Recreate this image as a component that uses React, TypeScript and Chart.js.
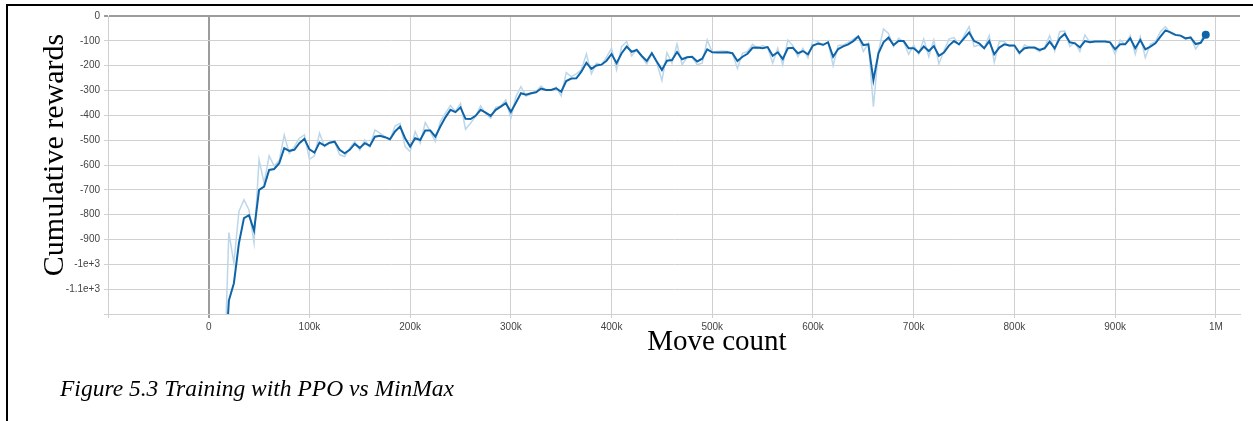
import React, { useEffect, useRef } from "react";
import { Chart, registerables } from "chart.js";

Chart.register(...registerables);

// Training step (in thousands of moves)
const STEPS_K: number[] = [
  15, 20, 25, 30, 35, 40, 45, 50, 55, 60, 65, 70, 75, 80, 85, 90, 95, 100,
  105, 110, 115, 120, 125, 130, 135, 140, 145, 150, 155, 160, 165, 170, 175, 180, 185, 190, 195, 200,
  205, 210, 215, 220, 225, 230, 235, 240, 245, 250, 255, 260, 265, 270, 275, 280, 285, 290, 295, 300,
  305, 310, 315, 320, 325, 330, 335, 340, 345, 350, 355, 360, 365, 370, 375, 380, 385, 390, 395, 400,
  405, 410, 415, 420, 425, 430, 435, 440, 445, 450, 455, 460, 465, 470, 475, 480, 485, 490, 495, 500,
  505, 510, 515, 520, 525, 530, 535, 540, 545, 550, 555, 560, 565, 570, 575, 580, 585, 590, 595, 600,
  605, 610, 615, 620, 625, 630, 635, 640, 645, 650, 655, 660, 665, 670, 675, 680, 685, 690, 695, 700,
  705, 710, 715, 720, 725, 730, 735, 740, 745, 750, 755, 760, 765, 770, 775, 780, 785, 790, 795, 800,
  805, 810, 815, 820, 825, 830, 835, 840, 845, 850, 855, 860, 865, 870, 875, 880, 885, 890, 895, 900,
  905, 910, 915, 920, 925, 930, 935, 940, 945, 950, 955, 960, 965, 970, 975, 980, 985, 990,
];

// Smoothed cumulative reward (dark line)
const SMOOTHED: number[] = [
  -1500, -1146, -1076, -915, -814, -802, -864, -700, -687, -620, -616, -593, -532, -543, -539, -512, -495, -537,
  -550, -510, -522, -510, -506, -539, -553, -539, -515, -531, -512, -523, -486, -482, -488, -496, -465, -445, -492, -526,
  -492, -499, -461, -461, -486, -445, -408, -378, -387, -368, -414, -415, -402, -378, -389, -402, -378, -365, -351, -386,
  -349, -311, -317, -311, -307, -292, -298, -298, -291, -305, -262, -252, -251, -224, -188, -213, -199, -196, -180, -153,
  -190, -150, -123, -144, -137, -161, -181, -150, -184, -217, -180, -177, -145, -174, -166, -164, -183, -172, -134, -146,
  -147, -147, -146, -150, -181, -164, -152, -128, -127, -130, -125, -160, -146, -173, -130, -128, -150, -141, -154, -119,
  -111, -116, -106, -164, -133, -122, -114, -101, -83, -117, -114, -258, -150, -106, -87, -117, -101, -101, -130, -130,
  -147, -123, -141, -121, -160, -147, -119, -101, -114, -90, -66, -101, -110, -130, -101, -154, -127, -114, -119, -119,
  -148, -130, -127, -127, -137, -130, -103, -130, -90, -72, -106, -110, -126, -101, -106, -103, -103, -103, -106, -134,
  -114, -114, -90, -130, -97, -134, -123, -110, -83, -58, -66, -76, -79, -90, -87, -113, -108, -76,
];

// Raw cumulative reward (light line)
const RAW: number[] = [
  -1500, -872, -995, -787, -740, -781, -915, -579, -673, -563, -604, -582, -479, -553, -526, -492, -479, -577,
  -563, -472, -526, -512, -506, -559, -566, -532, -506, -539, -499, -526, -459, -472, -486, -499, -443, -432, -526, -546,
  -465, -512, -429, -465, -506, -425, -392, -360, -384, -352, -456, -432, -404, -362, -394, -412, -368, -362, -338, -412,
  -325, -284, -322, -314, -304, -282, -300, -298, -287, -322, -228, -244, -233, -217, -153, -233, -190, -196, -166, -130,
  -217, -123, -103, -161, -134, -164, -193, -150, -190, -260, -148, -190, -113, -196, -166, -166, -196, -190, -97, -146,
  -143, -141, -143, -150, -211, -150, -143, -114, -130, -119, -127, -190, -130, -197, -97, -119, -164, -130, -168, -97,
  -103, -119, -103, -200, -119, -117, -106, -93, -79, -143, -110, -365, -143, -52, -70, -123, -90, -103, -154, -117,
  -154, -93, -164, -97, -193, -141, -93, -87, -117, -79, -43, -123, -117, -130, -79, -186, -103, -103, -123, -119,
  -154, -117, -127, -130, -143, -127, -79, -141, -63, -60, -123, -106, -143, -76, -106, -103, -103, -101, -106, -154,
  -97, -114, -79, -154, -83, -168, -114, -103, -63, -43, -70, -79, -79, -93, -83, -133, -103, -60,
];

const Y_TICK_VALUES: number[] = [0, -100, -200, -300, -400, -500, -600, -700, -800, -900, -1000, -1100, -1200];
const Y_TICK_LABELS: string[] = ["0", "-100", "-200", "-300", "-400", "-500", "-600", "-700", "-800", "-900", "-1e+3", "-1.1e+3", ""];
const X_TICK_VALUES: number[] = [-100000, 0, 100000, 200000, 300000, 400000, 500000, 600000, 700000, 800000, 900000, 1000000];
const X_TICK_LABELS: string[] = ["", "0", "100k", "200k", "300k", "400k", "500k", "600k", "700k", "800k", "900k", "1M"];

const X_TITLE = "Move count";
const Y_TITLE = "Cumulative rewards";
const CAPTION = "Figure 5.3 Training with PPO vs MinMax";

const DARK = "#0f64a8";
const LIGHT = "#bcd7ea";
const GRID = "#d0d0d0";
const ZERO = "#9c9c9c";

const figureText = {
  id: "figureText",
  afterDraw(chart: any) {
    const ctx = chart.ctx as CanvasRenderingContext2D;
    ctx.save();
    ctx.fillStyle = "#000";
    ctx.textAlign = "center";
    ctx.textBaseline = "alphabetic";
    ctx.font = '30px "Liberation Serif", "Times New Roman", serif';
    ctx.save();
    ctx.translate(63, 155);
    ctx.rotate(-Math.PI / 2);
    ctx.fillText(Y_TITLE, 0, 0);
    ctx.restore();
    ctx.font = '29px "Liberation Serif", "Times New Roman", serif';
    ctx.fillText(X_TITLE, 717, 350);
    ctx.textAlign = "left";
    ctx.font = 'italic 23.5px "Liberation Serif", "Times New Roman", serif';
    ctx.fillText(CAPTION, 60, 396);
    ctx.restore();
  },
};

export default function App() {
  const ref = useRef<HTMLCanvasElement | null>(null);

  useEffect(() => {
    if (!ref.current) return;
    const smoothed = STEPS_K.map((s, i) => ({ x: s * 1000, y: SMOOTHED[i] }));
    const raw = STEPS_K.map((s, i) => ({ x: s * 1000, y: RAW[i] }));
    const last = smoothed.length - 1;

    const chart = new Chart(ref.current, {
      type: "line",
      data: {
        datasets: [
          {
            label: "smoothed",
            data: smoothed,
            borderColor: DARK,
            backgroundColor: DARK,
            borderWidth: 2,
            tension: 0,
            pointRadius: (c: any) => (c.dataIndex === last ? 4 : 0),
            pointHoverRadius: 0,
            pointBorderWidth: 0,
          },
          {
            label: "raw",
            data: raw,
            borderColor: LIGHT,
            backgroundColor: LIGHT,
            borderWidth: 1.5,
            tension: 0,
            pointRadius: 0,
          },
        ],
      },
      plugins: [figureText],
      options: {
        animation: false,
        responsive: false,
        events: [],
        layout: { padding: { top: 16, right: 13, left: 0, bottom: 0 } },
        plugins: { legend: { display: false }, tooltip: { enabled: false } },
        scales: {
          x: {
            type: "linear",
            min: -100000,
            max: 1024000,
            afterFit: (s: any) => {
              s.height = 107;
            },
            afterBuildTicks: (s: any) => {
              s.ticks = X_TICK_VALUES.map((v) => ({ value: v }));
            },
            ticks: {
              includeBounds: false,
              autoSkip: false,
              maxRotation: 0,
              padding: 3,
              color: "#444",
              font: { family: '"Liberation Sans", Arial, sans-serif', size: 10 },
              callback: (v: any) => {
                const i = X_TICK_VALUES.indexOf(Number(v));
                return i >= 0 ? X_TICK_LABELS[i] : "";
              },
            },
            grid: {
              tickLength: 4,
              color: (c: any) => (c.tick && c.tick.value === 0 ? ZERO : GRID),
              lineWidth: (c: any) => (c.tick && c.tick.value === 0 ? 2 : 1),
            },
            border: { display: true, color: GRID, width: 1 },
          },
          y: {
            type: "linear",
            min: -1200,
            max: 0,
            afterFit: (s: any) => {
              s.width = 108;
            },
            afterBuildTicks: (s: any) => {
              s.ticks = Y_TICK_VALUES.map((v) => ({ value: v }));
            },
            ticks: {
              includeBounds: false,
              autoSkip: false,
              padding: 4,
              color: "#444",
              font: { family: '"Liberation Sans", Arial, sans-serif', size: 10 },
              callback: (v: any) => {
                const i = Y_TICK_VALUES.indexOf(Number(v));
                return i >= 0 ? Y_TICK_LABELS[i] : "";
              },
            },
            grid: {
              tickLength: 4,
              color: (c: any) => (c.tick && c.tick.value === 0 ? ZERO : GRID),
              lineWidth: (c: any) => (c.tick && c.tick.value === 0 ? 2 : 1),
            },
            border: { display: true, color: GRID, width: 1 },
          },
        },
      },
    });
    return () => chart.destroy();
  }, []);

  return (
    <div style={{ position: "fixed", left: 0, top: 0, width: 1253, height: 421, background: "#fff" }}>
      <div style={{ position: "absolute", left: 6, top: 4, width: 1247, height: 2, background: "#000" }} />
      <div style={{ position: "absolute", left: 6, top: 4, width: 2, height: 417, background: "#000" }} />
      <canvas ref={ref} width={1253} height={421} style={{ position: "absolute", left: 0, top: 0 }} />
    </div>
  );
}
